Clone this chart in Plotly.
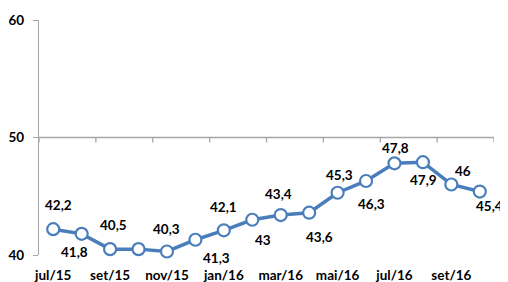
import plotly.graph_objects as go

months = ["jul/15", "ago/15", "set/15", "out/15", "nov/15", "dez/15", "jan/16", "fev/16",
          "mar/16", "abr/16", "mai/16", "jun/16", "jul/16", "ago/16", "set/16", "out/16"]
values = [42.2, 41.8, 40.5, 40.5, 40.3, 41.3, 42.1, 43.0,
          43.4, 43.6, 45.3, 46.3, 47.8, 47.9, 46.0, 45.4]
show_label = [True, True, True, False, True, True, True, True,
              True, True, True, True, True, True, True, True]
y_ticks = [40, 50, 60]

# label offsets (pixels) – style only
label_dx = [5, -7, 3, 0, 0, 21, 0, 11, -2, 10, 2, 5, 1, 1, 12, 10]
label_dy = [24, -18, 24, 0, 22, -18, 23, -20, 21, -24, 18, -23, 15, -18, 14, -14]

FONT = "Lato"
BLUE = "#4A7EBB"
GRAY = "#A6A6A6"

xs = list(range(len(months)))

fig = go.Figure()
fig.add_trace(go.Scatter(
    x=xs, y=values, mode="lines+markers",
    line=dict(color=BLUE, width=3.5),
    marker=dict(size=12, color="white", line=dict(color=BLUE, width=2.2)),
    hoverinfo="skip", showlegend=False, cliponaxis=False,
))

def fmt(v):
    return f"{v:g}".replace(".", ",")

annotations = []
for i, v in enumerate(values):
    if not show_label[i]:
        continue
    annotations.append(dict(
        x=xs[i], y=v, xref="x", yref="y", text=fmt(v), showarrow=False,
        xshift=label_dx[i], yshift=label_dy[i],
        font=dict(family=FONT, size=13.5, color="#000000", weight="bold"),
    ))

shapes = [dict(type="line", xref="x", yref="y", x0=-0.5, x1=len(months) - 0.5,
               y0=50, y1=50, line=dict(color=GRAY, width=1.3))]
for b in range(0, len(months) + 1, 2):
    shapes.append(dict(type="line", xref="x", yref="y", x0=b - 0.5, x1=b - 0.5,
                       ysizemode="pixel", yanchor=50, y0=0, y1=-5,
                       line=dict(color=GRAY, width=1.3)))

fig.update_layout(
    width=500, height=274,
    margin=dict(l=31, r=14, t=12, b=27),
    paper_bgcolor="white", plot_bgcolor="white",
    annotations=annotations, shapes=shapes,
    xaxis=dict(
        range=[-0.5, len(months) - 0.5], automargin=False,
        tickmode="array", tickvals=xs[::2], ticktext=months[::2],
        ticks="", showline=False, showgrid=False, zeroline=False,
        ticklabelstandoff=10,
        tickfont=dict(family=FONT, size=13.5, color="#000000", weight="bold"),
    ),
    yaxis=dict(
        range=[40, 60], tickmode="array", tickvals=y_ticks, automargin=False,
        ticks="outside", ticklen=5, tickcolor=GRAY, tickwidth=1.3,
        showline=True, linecolor=GRAY, linewidth=1.3,
        showgrid=False, zeroline=False, ticklabelstandoff=6,
        tickfont=dict(family=FONT, size=13.5, color="#000000", weight="bold"),
    ),
)

fig.write_html("out.html")
